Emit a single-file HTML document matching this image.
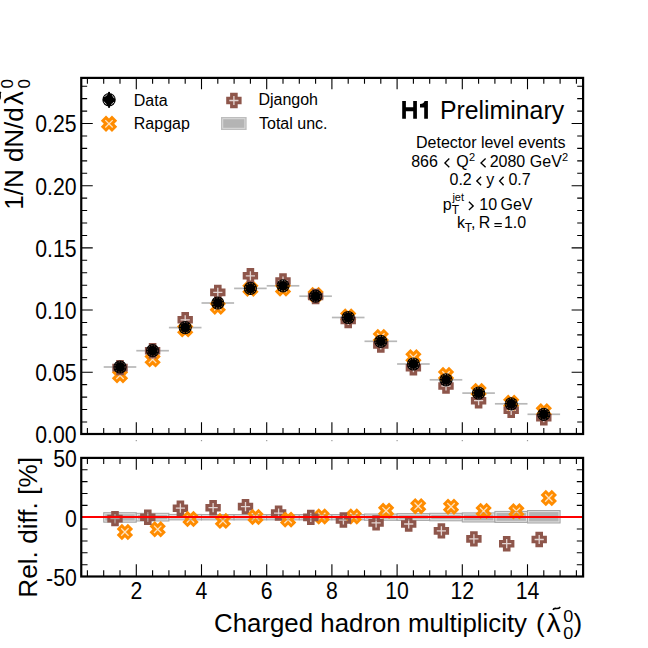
<!DOCTYPE html><html><head><meta charset="utf-8"><style>html,body{margin:0;padding:0;background:#fff;width:648px;height:648px;overflow:hidden}svg{display:block}</style></head><body><svg width="648" height="648" viewBox="0 0 648 648">
<defs>
<mask id="mp" maskUnits="userSpaceOnUse" x="-10" y="-10" width="20" height="20"><rect x="-10" y="-10" width="20" height="20" fill="#fff"/><path d="M-4.6,0 H4.6 M0,-4.6 V4.6" stroke="#000" stroke-opacity="0.75" stroke-width="1.3"/></mask>
<path id="pl" d="M-3.8,-7.7 H3.8 V-3.8 H7.7 V3.8 H3.8 V7.7 H-3.8 V3.8 H-7.7 V-3.8 H-3.8 Z"/>
<g id="dj"><use href="#pl" fill="#8e564b" mask="url(#mp)"/></g>
<mask id="mx" maskUnits="userSpaceOnUse" x="-12" y="-12" width="24" height="24"><rect x="-12" y="-12" width="24" height="24" fill="#fff"/><path d="M-3.7,-3.7 L3.7,3.7 M-3.7,3.7 L3.7,-3.7" stroke="#000" stroke-opacity="0.75" stroke-width="1.3"/></mask>
<g id="rg"><g mask="url(#mx)"><path d="M-3.7,-7.9 H3.7 V-3.7 H7.9 V3.7 H3.7 V7.9 H-3.7 V3.7 H-7.9 V-3.7 H-3.7 Z" transform="rotate(45)" fill="#ff8c00"/></g></g>
<mask id="md" maskUnits="userSpaceOnUse" x="-10" y="-10" width="20" height="20"><rect x="-10" y="-10" width="20" height="20" fill="#fff"/><circle r="5.2" fill="none" stroke="#000" stroke-opacity="0.8" stroke-width="0.9" stroke-dasharray="1.4 1.4"/></mask>
<g id="dt"><circle r="6.6" fill="#000" mask="url(#md)"/></g>
<mask id="mdl" maskUnits="userSpaceOnUse" x="-10" y="-10" width="20" height="20"><rect x="-10" y="-10" width="20" height="20" fill="#fff"/><circle r="5.3" fill="none" stroke="#000" stroke-opacity="0.85" stroke-width="0.9" stroke-dasharray="0 2.4 3.5 2.42"/></mask>
<g id="dtl"><circle r="6.7" fill="#000" mask="url(#mdl)"/></g>
</defs>
<rect width="648" height="648" fill="#fff"/>
<rect x="103.70" y="366.15" width="32.60" height="1.7" fill="#b8b8b8"/>
<rect x="136.30" y="349.85" width="32.60" height="1.7" fill="#b8b8b8"/>
<rect x="168.90" y="326.75" width="32.60" height="1.7" fill="#b8b8b8"/>
<rect x="201.50" y="302.15" width="32.60" height="1.7" fill="#b8b8b8"/>
<rect x="234.10" y="287.55" width="32.60" height="1.7" fill="#b8b8b8"/>
<rect x="266.70" y="284.95" width="32.60" height="1.7" fill="#b8b8b8"/>
<rect x="299.30" y="295.35" width="32.60" height="1.7" fill="#b8b8b8"/>
<rect x="331.90" y="316.65" width="32.60" height="1.7" fill="#b8b8b8"/>
<rect x="364.50" y="340.45" width="32.60" height="1.7" fill="#b8b8b8"/>
<rect x="397.10" y="363.15" width="32.60" height="1.7" fill="#b8b8b8"/>
<rect x="429.70" y="378.95" width="32.60" height="1.7" fill="#b8b8b8"/>
<rect x="462.30" y="392.25" width="32.60" height="1.7" fill="#b8b8b8"/>
<rect x="494.90" y="402.95" width="32.60" height="1.7" fill="#b8b8b8"/>
<rect x="527.50" y="413.45" width="32.60" height="1.7" fill="#b8b8b8"/>
<use href="#rg" x="120.00" y="375.30"/>
<use href="#rg" x="152.60" y="359.40"/>
<use href="#rg" x="185.20" y="329.40"/>
<use href="#rg" x="217.80" y="306.80"/>
<use href="#rg" x="250.40" y="288.80"/>
<use href="#rg" x="283.00" y="288.60"/>
<use href="#rg" x="315.60" y="295.00"/>
<use href="#rg" x="348.20" y="316.50"/>
<use href="#rg" x="380.80" y="337.00"/>
<use href="#rg" x="413.40" y="357.30"/>
<use href="#rg" x="446.00" y="375.00"/>
<use href="#rg" x="478.60" y="391.00"/>
<use href="#rg" x="511.20" y="402.80"/>
<use href="#rg" x="543.80" y="411.30"/>
<use href="#dj" x="120.00" y="367.60"/>
<use href="#dj" x="152.60" y="350.80"/>
<use href="#dj" x="185.20" y="319.80"/>
<use href="#dj" x="217.80" y="292.40"/>
<use href="#dj" x="250.40" y="275.80"/>
<use href="#dj" x="283.00" y="281.00"/>
<use href="#dj" x="315.60" y="296.50"/>
<use href="#dj" x="348.20" y="320.50"/>
<use href="#dj" x="380.80" y="345.00"/>
<use href="#dj" x="413.40" y="367.70"/>
<use href="#dj" x="446.00" y="386.00"/>
<use href="#dj" x="478.60" y="400.70"/>
<use href="#dj" x="511.20" y="410.30"/>
<use href="#dj" x="543.80" y="417.70"/>
<use href="#dt" x="120.00" y="367.00"/>
<use href="#dt" x="152.60" y="350.70"/>
<use href="#dt" x="185.20" y="327.60"/>
<use href="#dt" x="217.80" y="303.00"/>
<use href="#dt" x="250.40" y="288.40"/>
<use href="#dt" x="283.00" y="285.80"/>
<use href="#dt" x="315.60" y="296.20"/>
<use href="#dt" x="348.20" y="317.50"/>
<use href="#dt" x="380.80" y="341.30"/>
<use href="#dt" x="413.40" y="364.00"/>
<use href="#dt" x="446.00" y="379.80"/>
<use href="#dt" x="478.60" y="393.10"/>
<use href="#dt" x="511.20" y="403.80"/>
<use href="#dt" x="543.80" y="414.30"/>
<rect x="103.70" y="512.70" width="32.60" height="9.50" fill="#b4b4b4" stroke="#a6a6a6" stroke-width="1"/>
<rect x="104.80" y="513.80" width="30.40" height="7.30" fill="none" stroke="#e2e2e2" stroke-width="0.9"/>
<rect x="136.30" y="513.30" width="32.60" height="7.70" fill="#b4b4b4" stroke="#a6a6a6" stroke-width="1"/>
<rect x="137.40" y="514.40" width="30.40" height="5.50" fill="none" stroke="#e2e2e2" stroke-width="0.9"/>
<rect x="168.90" y="514.40" width="32.60" height="5.50" fill="#b4b4b4" stroke="#a6a6a6" stroke-width="1"/>
<rect x="170.00" y="515.50" width="30.40" height="3.30" fill="none" stroke="#e2e2e2" stroke-width="0.9"/>
<rect x="201.50" y="514.50" width="32.60" height="5.40" fill="#b4b4b4" stroke="#a6a6a6" stroke-width="1"/>
<rect x="202.60" y="515.60" width="30.40" height="3.20" fill="none" stroke="#e2e2e2" stroke-width="0.9"/>
<rect x="234.10" y="514.50" width="32.60" height="5.40" fill="#b4b4b4" stroke="#a6a6a6" stroke-width="1"/>
<rect x="235.20" y="515.60" width="30.40" height="3.20" fill="none" stroke="#e2e2e2" stroke-width="0.9"/>
<rect x="266.70" y="514.50" width="32.60" height="5.40" fill="#b4b4b4" stroke="#a6a6a6" stroke-width="1"/>
<rect x="267.80" y="515.60" width="30.40" height="3.20" fill="none" stroke="#e2e2e2" stroke-width="0.9"/>
<rect x="299.30" y="514.50" width="32.60" height="5.40" fill="#b4b4b4" stroke="#a6a6a6" stroke-width="1"/>
<rect x="300.40" y="515.60" width="30.40" height="3.20" fill="none" stroke="#e2e2e2" stroke-width="0.9"/>
<rect x="331.90" y="514.50" width="32.60" height="5.40" fill="#b4b4b4" stroke="#a6a6a6" stroke-width="1"/>
<rect x="333.00" y="515.60" width="30.40" height="3.20" fill="none" stroke="#e2e2e2" stroke-width="0.9"/>
<rect x="364.50" y="514.00" width="32.60" height="6.30" fill="#b4b4b4" stroke="#a6a6a6" stroke-width="1"/>
<rect x="365.60" y="515.10" width="30.40" height="4.10" fill="none" stroke="#e2e2e2" stroke-width="0.9"/>
<rect x="397.10" y="513.60" width="32.60" height="6.80" fill="#b4b4b4" stroke="#a6a6a6" stroke-width="1"/>
<rect x="398.20" y="514.70" width="30.40" height="4.60" fill="none" stroke="#e2e2e2" stroke-width="0.9"/>
<rect x="429.70" y="513.30" width="32.60" height="7.50" fill="#b4b4b4" stroke="#a6a6a6" stroke-width="1"/>
<rect x="430.80" y="514.40" width="30.40" height="5.30" fill="none" stroke="#e2e2e2" stroke-width="0.9"/>
<rect x="462.30" y="512.90" width="32.60" height="9.10" fill="#b4b4b4" stroke="#a6a6a6" stroke-width="1"/>
<rect x="463.40" y="514.00" width="30.40" height="6.90" fill="none" stroke="#e2e2e2" stroke-width="0.9"/>
<rect x="494.90" y="511.40" width="32.60" height="11.00" fill="#b4b4b4" stroke="#a6a6a6" stroke-width="1"/>
<rect x="496.00" y="512.50" width="30.40" height="8.80" fill="none" stroke="#e2e2e2" stroke-width="0.9"/>
<rect x="527.50" y="510.50" width="32.60" height="12.50" fill="#b4b4b4" stroke="#a6a6a6" stroke-width="1"/>
<rect x="528.60" y="511.60" width="30.40" height="10.30" fill="none" stroke="#e2e2e2" stroke-width="0.9"/>
<use href="#rg" x="124.9" y="532.0"/>
<use href="#dj" x="115.0" y="518.6"/>
<use href="#rg" x="157.7" y="529.3"/>
<use href="#dj" x="147.8" y="517.2"/>
<use href="#dj" x="180.4" y="508.2"/>
<use href="#rg" x="190.5" y="519.0"/>
<use href="#dj" x="213.1" y="507.7"/>
<use href="#rg" x="222.9" y="520.9"/>
<use href="#dj" x="245.5" y="506.6"/>
<use href="#rg" x="255.5" y="517.0"/>
<use href="#dj" x="278.6" y="513.1"/>
<use href="#rg" x="288.1" y="519.6"/>
<use href="#rg" x="321.7" y="516.5"/>
<use href="#dj" x="310.8" y="517.4"/>
<use href="#rg" x="353.8" y="516.5"/>
<use href="#dj" x="343.4" y="520.0"/>
<use href="#rg" x="386.1" y="510.8"/>
<use href="#dj" x="376.1" y="522.9"/>
<use href="#rg" x="418.2" y="506.2"/>
<use href="#dj" x="408.7" y="524.0"/>
<use href="#rg" x="451.0" y="506.7"/>
<use href="#dj" x="441.4" y="530.9"/>
<use href="#rg" x="483.6" y="510.9"/>
<use href="#dj" x="473.9" y="538.9"/>
<use href="#rg" x="516.4" y="511.3"/>
<use href="#dj" x="506.7" y="543.7"/>
<use href="#rg" x="548.8" y="498.0"/>
<use href="#dj" x="539.2" y="539.5"/>
<path d="M87.40,434.0 v-6 M87.40,77.9 v5.8 M87.40,457.9 v6.2 M87.40,576.5 v-6.3 M103.70,434.0 v-6 M103.70,77.9 v5.8 M103.70,457.9 v6.2 M103.70,576.5 v-6.3 M120.00,434.0 v-6 M120.00,77.9 v5.8 M120.00,457.9 v6.2 M120.00,576.5 v-6.3 M136.30,434.0 v-11.8 M136.30,77.9 v11.4 M136.30,457.9 v11.8 M136.30,576.5 v-12.3 M152.60,434.0 v-6 M152.60,77.9 v5.8 M152.60,457.9 v6.2 M152.60,576.5 v-6.3 M168.90,434.0 v-6 M168.90,77.9 v5.8 M168.90,457.9 v6.2 M168.90,576.5 v-6.3 M185.20,434.0 v-6 M185.20,77.9 v5.8 M185.20,457.9 v6.2 M185.20,576.5 v-6.3 M201.50,434.0 v-11.8 M201.50,77.9 v11.4 M201.50,457.9 v11.8 M201.50,576.5 v-12.3 M217.80,434.0 v-6 M217.80,77.9 v5.8 M217.80,457.9 v6.2 M217.80,576.5 v-6.3 M234.10,434.0 v-6 M234.10,77.9 v5.8 M234.10,457.9 v6.2 M234.10,576.5 v-6.3 M250.40,434.0 v-6 M250.40,77.9 v5.8 M250.40,457.9 v6.2 M250.40,576.5 v-6.3 M266.70,434.0 v-11.8 M266.70,77.9 v11.4 M266.70,457.9 v11.8 M266.70,576.5 v-12.3 M283.00,434.0 v-6 M283.00,77.9 v5.8 M283.00,457.9 v6.2 M283.00,576.5 v-6.3 M299.30,434.0 v-6 M299.30,77.9 v5.8 M299.30,457.9 v6.2 M299.30,576.5 v-6.3 M315.60,434.0 v-6 M315.60,77.9 v5.8 M315.60,457.9 v6.2 M315.60,576.5 v-6.3 M331.90,434.0 v-11.8 M331.90,77.9 v11.4 M331.90,457.9 v11.8 M331.90,576.5 v-12.3 M348.20,434.0 v-6 M348.20,77.9 v5.8 M348.20,457.9 v6.2 M348.20,576.5 v-6.3 M364.50,434.0 v-6 M364.50,77.9 v5.8 M364.50,457.9 v6.2 M364.50,576.5 v-6.3 M380.80,434.0 v-6 M380.80,77.9 v5.8 M380.80,457.9 v6.2 M380.80,576.5 v-6.3 M397.10,434.0 v-11.8 M397.10,77.9 v11.4 M397.10,457.9 v11.8 M397.10,576.5 v-12.3 M413.40,434.0 v-6 M413.40,77.9 v5.8 M413.40,457.9 v6.2 M413.40,576.5 v-6.3 M429.70,434.0 v-6 M429.70,77.9 v5.8 M429.70,457.9 v6.2 M429.70,576.5 v-6.3 M446.00,434.0 v-6 M446.00,77.9 v5.8 M446.00,457.9 v6.2 M446.00,576.5 v-6.3 M462.30,434.0 v-11.8 M462.30,77.9 v11.4 M462.30,457.9 v11.8 M462.30,576.5 v-12.3 M478.60,434.0 v-6 M478.60,77.9 v5.8 M478.60,457.9 v6.2 M478.60,576.5 v-6.3 M494.90,434.0 v-6 M494.90,77.9 v5.8 M494.90,457.9 v6.2 M494.90,576.5 v-6.3 M511.20,434.0 v-6 M511.20,77.9 v5.8 M511.20,457.9 v6.2 M511.20,576.5 v-6.3 M527.50,434.0 v-11.8 M527.50,77.9 v11.4 M527.50,457.9 v11.8 M527.50,576.5 v-12.3 M543.80,434.0 v-6 M543.80,77.9 v5.8 M543.80,457.9 v6.2 M543.80,576.5 v-6.3 M560.10,434.0 v-6 M560.10,77.9 v5.8 M560.10,457.9 v6.2 M560.10,576.5 v-6.3 M576.40,434.0 v-6 M576.40,77.9 v5.8 M576.40,457.9 v6.2 M576.40,576.5 v-6.3 M81.25,434.40 h11.5 M583.1,434.40 h-11.5 M81.25,421.96 h5.9 M583.1,421.96 h-5.9 M81.25,409.53 h5.9 M583.1,409.53 h-5.9 M81.25,397.09 h5.9 M583.1,397.09 h-5.9 M81.25,384.66 h5.9 M583.1,384.66 h-5.9 M81.25,372.22 h11.5 M583.1,372.22 h-11.5 M81.25,359.79 h5.9 M583.1,359.79 h-5.9 M81.25,347.35 h5.9 M583.1,347.35 h-5.9 M81.25,334.92 h5.9 M583.1,334.92 h-5.9 M81.25,322.49 h5.9 M583.1,322.49 h-5.9 M81.25,310.05 h11.5 M583.1,310.05 h-11.5 M81.25,297.62 h5.9 M583.1,297.62 h-5.9 M81.25,285.18 h5.9 M583.1,285.18 h-5.9 M81.25,272.75 h5.9 M583.1,272.75 h-5.9 M81.25,260.31 h5.9 M583.1,260.31 h-5.9 M81.25,247.87 h11.5 M583.1,247.87 h-11.5 M81.25,235.44 h5.9 M583.1,235.44 h-5.9 M81.25,223.00 h5.9 M583.1,223.00 h-5.9 M81.25,210.57 h5.9 M583.1,210.57 h-5.9 M81.25,198.13 h5.9 M583.1,198.13 h-5.9 M81.25,185.70 h11.5 M583.1,185.70 h-11.5 M81.25,173.26 h5.9 M583.1,173.26 h-5.9 M81.25,160.83 h5.9 M583.1,160.83 h-5.9 M81.25,148.39 h5.9 M583.1,148.39 h-5.9 M81.25,135.96 h5.9 M583.1,135.96 h-5.9 M81.25,123.52 h11.5 M583.1,123.52 h-11.5 M81.25,111.09 h5.9 M583.1,111.09 h-5.9 M81.25,98.65 h5.9 M583.1,98.65 h-5.9 M81.25,86.22 h5.9 M583.1,86.22 h-5.9 M81.25,576.55 h12 M583.1,576.55 h-12 M81.25,564.68 h6.3 M583.1,564.68 h-6.3 M81.25,552.81 h6.3 M583.1,552.81 h-6.3 M81.25,540.94 h6.3 M583.1,540.94 h-6.3 M81.25,529.07 h6.3 M583.1,529.07 h-6.3 M81.25,517.20 h12 M583.1,517.20 h-12 M81.25,505.33 h6.3 M583.1,505.33 h-6.3 M81.25,493.46 h6.3 M583.1,493.46 h-6.3 M81.25,481.59 h6.3 M583.1,481.59 h-6.3 M81.25,469.72 h6.3 M583.1,469.72 h-6.3 M81.25,457.85 h12 M583.1,457.85 h-12" stroke="#000" stroke-width="1.1" fill="none"/>
<line x1="81.25" y1="517.1" x2="583.1" y2="517.1" stroke="#ff0000" stroke-width="2"/>
<rect x="81.25" y="77.9" width="501.85" height="356.10" fill="none" stroke="#000" stroke-width="2.2"/>
<rect x="81.25" y="457.9" width="501.85" height="118.60" fill="none" stroke="#000" stroke-width="2.2"/>
<rect x="135.70" y="440" width="1.2" height="1.2" fill="#999"/>
<rect x="200.90" y="440" width="1.2" height="1.2" fill="#999"/>
<rect x="266.10" y="440" width="1.2" height="1.2" fill="#999"/>
<rect x="331.30" y="440" width="1.2" height="1.2" fill="#999"/>
<rect x="396.50" y="440" width="1.2" height="1.2" fill="#999"/>
<rect x="461.70" y="440" width="1.2" height="1.2" fill="#999"/>
<rect x="526.90" y="440" width="1.2" height="1.2" fill="#999"/>
<g font-family='"Liberation Sans", sans-serif' fill="#000" stroke="#000" stroke-width="0">
<text transform="translate(76.6,443.30) scale(0.966,1.05)" font-size="22" text-anchor="end">0.00</text>
<text transform="translate(76.6,381.12) scale(0.966,1.05)" font-size="22" text-anchor="end">0.05</text>
<text transform="translate(76.6,318.95) scale(0.966,1.05)" font-size="22" text-anchor="end">0.10</text>
<text transform="translate(76.6,256.77) scale(0.966,1.05)" font-size="22" text-anchor="end">0.15</text>
<text transform="translate(76.6,194.60) scale(0.966,1.05)" font-size="22" text-anchor="end">0.20</text>
<text transform="translate(76.6,132.42) scale(0.966,1.05)" font-size="22" text-anchor="end">0.25</text>
<text transform="translate(76.8,467.15) scale(0.966,1.05)" font-size="22" text-anchor="end">50</text>
<text transform="translate(76.8,526.50) scale(0.966,1.05)" font-size="22" text-anchor="end">0</text>
<text transform="translate(76.8,585.85) scale(0.966,1.05)" font-size="22" text-anchor="end">-50</text>
<text transform="translate(136.30,599.4) scale(0.966,1.05)" font-size="22" text-anchor="middle">2</text>
<text transform="translate(201.50,599.4) scale(0.966,1.05)" font-size="22" text-anchor="middle">4</text>
<text transform="translate(266.70,599.4) scale(0.966,1.05)" font-size="22" text-anchor="middle">6</text>
<text transform="translate(331.90,599.4) scale(0.966,1.05)" font-size="22" text-anchor="middle">8</text>
<text transform="translate(397.10,599.4) scale(0.966,1.05)" font-size="22" text-anchor="middle">10</text>
<text transform="translate(462.30,599.4) scale(0.966,1.05)" font-size="22" text-anchor="middle">12</text>
<text transform="translate(527.50,599.4) scale(0.966,1.05)" font-size="22" text-anchor="middle">14</text>
<g stroke="none">
<use href="#dtl" x="109.05" y="99.7"/>
<rect x="108.1" y="91.9" width="1.9" height="15.9" fill="#000"/>
<use href="#rg" x="109" y="123.8"/>
<use href="#dj" x="233.9" y="100.5"/>
<rect x="221.5" y="117.5" width="24.6" height="12" fill="#b4b4b4" stroke="#bdbdbd" stroke-width="1"/>
<rect x="222.7" y="118.7" width="22.2" height="9.6" fill="none" stroke="#dcdcdc" stroke-width="1"/>
</g>
<text x="133.8" y="105.5" font-size="16">Data</text>
<text x="133.8" y="129" font-size="16">Rapgap</text>
<text x="258.4" y="105.2" font-size="16">Djangoh</text>
<text x="259" y="129.1" font-size="16">Total unc.</text>
<path d="M402.2,101 H405.9 V107.3 H413.2 V101 H416.9 V118.8 H413.2 V111.2 H405.9 V118.8 H402.2 Z M420,104.1 C422.6,104 424,102.9 424.6,101 H427.9 V118.8 H424.2 V107.4 H420 Z" fill="#000"/>
<text transform="translate(439.91,119.10) scale(0.9943,1)" font-size="25">Preliminary</text>
<text transform="translate(416.00,148.20)" font-size="16">Detector level events</text>
<text transform="translate(411.15,167.00)" font-size="16">866</text>
<text transform="translate(456.20,167.00)" font-size="16">Q</text>
<text transform="translate(468.90,161.00)" font-size="11">2</text>
<text transform="translate(489.65,167.00)" font-size="16">2080</text>
<text transform="translate(529.85,167.00)" font-size="16">GeV</text>
<text transform="translate(562.05,161.00)" font-size="11">2</text>
<text transform="translate(449.50,184.80)" font-size="16">0.2</text>
<text transform="translate(486.35,184.80)" font-size="16">y</text>
<text transform="translate(508.45,184.80)" font-size="16">0.7</text>
<text transform="translate(442.80,209.80)" font-size="16">p</text>
<text transform="translate(452.40,201.10)" font-size="11">jet</text>
<text transform="translate(451.75,213.80)" font-size="12">T</text>
<text transform="translate(479.25,210.00)" font-size="16">10</text>
<text transform="translate(500.50,210.00)" font-size="16">GeV</text>
<text transform="translate(456.90,227.80)" font-size="16">k</text>
<text transform="translate(464.70,231.70)" font-size="12">T</text>
<text transform="translate(470.90,227.80)" font-size="16">,</text>
<text transform="translate(478.80,227.80)" font-size="16">R</text>
<text transform="translate(503.90,227.80)" font-size="16">1.0</text>
<path d="M449.3,158.6 L444.9,162.9 L449.3,167.3 M485.6,158.6 L481.0,162.9 L485.6,167.3 M481.1,176.7 L476.8,181 L481.1,185.2 M503.6,176.7 L499.6,181 L503.6,185.2 M468.9,201.8 L473.2,205.9 L468.9,210.0" fill="none" stroke="#000" stroke-width="1.35"/>
<path d="M494.4,223.6 H501.8 M494.4,226.5 H501.8" fill="none" stroke="#000" stroke-width="1.15"/>
<text transform="translate(214.01,632.00) scale(0.9943,1)" font-size="26">Charged hadron multiplicity</text>
<text transform="translate(536.10,632.30)" font-size="26">(</text>
<text transform="translate(546.60,631.60) scale(1.0923,1)" font-size="26">λ</text>
<text transform="translate(563.24,621.60) scale(1.0625,1)" font-size="17">0</text>
<text transform="translate(563.24,639.00) scale(1.0625,1)" font-size="17">0</text>
<text transform="translate(573.60,632.30)" font-size="26">)</text>
<path d="M553.0,609.9 C554.6,606.3 557.2,610.6 560.3,606.9" fill="none" stroke="#000" stroke-width="1.6"/>
<text transform="translate(23.10,209.80) rotate(-90)" font-size="26">1/N dN/d</text>
<text transform="translate(23.10,105.20) rotate(-90) scale(1.0846,1)" font-size="26">λ</text>
<text transform="translate(13.20,88.59) rotate(-90) scale(0.9875,1)" font-size="17">0</text>
<text transform="translate(30.10,88.59) rotate(-90) scale(0.9875,1)" font-size="17">0</text>
<path d="M0.9,92.0 C-1.4,94.2 1.6,97.2 -0.9,99.8" fill="none" stroke="#000" stroke-width="1.6"/>
<text transform="translate(36.90,597.72) rotate(-90) scale(1.0081,1)" font-size="26">Rel. diff. [%]</text>
</g>
</svg></body></html>
